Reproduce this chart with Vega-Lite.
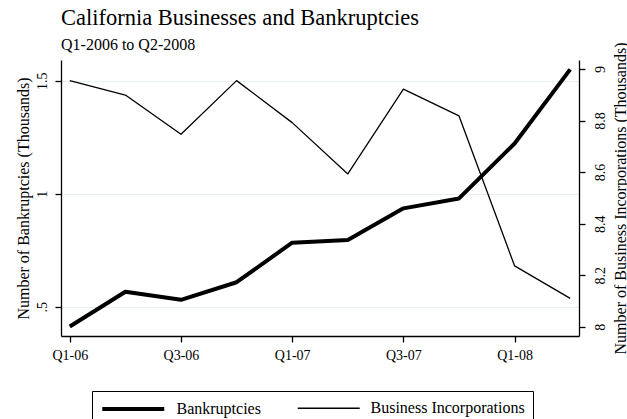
{
  "$schema": "https://vega.github.io/schema/vega-lite/v6.json",
  "width": 518,
  "height": 276,
  "autosize": "none",
  "padding": {"left": 61, "top": 60, "right": 48, "bottom": 83},
  "background": "white",
  "title": {
    "text": "California Businesses and Bankruptcies",
    "subtitle": "Q1-2006 to Q2-2008",
    "anchor": "start",
    "frame": "group",
    "font": "Liberation Serif",
    "fontSize": 22.5,
    "fontWeight": "normal",
    "color": "black",
    "subtitleFont": "Liberation Serif",
    "subtitleFontSize": 16,
    "subtitleColor": "black",
    "subtitlePadding": 8,
    "offset": -11
  },
  "data": {
    "values": [
      {"quarter": "Q1-06", "series": "Bankruptcies", "value": 0.412},
      {"quarter": "Q2-06", "series": "Bankruptcies", "value": 0.566},
      {"quarter": "Q3-06", "series": "Bankruptcies", "value": 0.530},
      {"quarter": "Q4-06", "series": "Bankruptcies", "value": 0.608},
      {"quarter": "Q1-07", "series": "Bankruptcies", "value": 0.783},
      {"quarter": "Q2-07", "series": "Bankruptcies", "value": 0.795},
      {"quarter": "Q3-07", "series": "Bankruptcies", "value": 0.935},
      {"quarter": "Q4-07", "series": "Bankruptcies", "value": 0.979},
      {"quarter": "Q1-08", "series": "Bankruptcies", "value": 1.222},
      {"quarter": "Q2-08", "series": "Bankruptcies", "value": 1.55},
      {"quarter": "Q1-06", "series": "Business Incorporations", "value": 8.955},
      {"quarter": "Q2-06", "series": "Business Incorporations", "value": 8.899},
      {"quarter": "Q3-06", "series": "Business Incorporations", "value": 8.747},
      {"quarter": "Q4-06", "series": "Business Incorporations", "value": 8.955},
      {"quarter": "Q1-07", "series": "Business Incorporations", "value": 8.792},
      {"quarter": "Q2-07", "series": "Business Incorporations", "value": 8.593},
      {"quarter": "Q3-07", "series": "Business Incorporations", "value": 8.922},
      {"quarter": "Q4-07", "series": "Business Incorporations", "value": 8.818},
      {"quarter": "Q1-08", "series": "Business Incorporations", "value": 8.236},
      {"quarter": "Q2-08", "series": "Business Incorporations", "value": 8.11}
    ]
  },
  "encoding": {
    "x": {
      "field": "quarter",
      "type": "ordinal",
      "sort": null,
      "scale": {"type": "point", "padding": 0.158},
      "axis": {
        "values": ["Q1-06", "Q3-06", "Q1-07", "Q3-07", "Q1-08"],
        "labelAngle": 0,
        "title": null,
        "grid": false,
        "labelFontSize": 14,
        "labelPadding": 6,
        "tickSize": 6
      }
    },
    "strokeWidth": {
      "field": "series",
      "type": "nominal",
      "scale": {"domain": ["Bankruptcies", "Business Incorporations"], "range": [4, 1.3]},
      "legend": {
        "title": null,
        "orient": "none",
        "legendX": 31,
        "legendY": 331,
        "direction": "horizontal",
        "symbolType": "M-1,0H7",
        "symbolSize": 240,
        "symbolStrokeColor": "black",
        "symbolFillColor": "transparent",
        "labelFontSize": 16,
        "labelFont": "Liberation Serif",
        "labelColor": "black",
        "labelOffset": 56.5,
        "columnPadding": 34,
        "padding": 8,
        "strokeColor": "black",
        "fillColor": "white"
      }
    }
  },
  "layer": [
    {
      "transform": [{"filter": "datum.series === 'Bankruptcies'"}],
      "mark": {"type": "line", "color": "black", "strokeJoin": "round"},
      "encoding": {
        "y": {
          "field": "value",
          "type": "quantitative",
          "scale": {"domain": [0.37, 1.5916], "nice": false, "zero": false},
          "axis": {
            "orient": "left",
            "values": [0.5, 1, 1.5],
            "format": "~g",
            "labelExpr": "replace(datum.label, '0.', '.')",
            "labelAngle": -90,
            "labelFontSize": 14,
            "labelPadding": 6,
            "tickSize": 6,
            "grid": true,
            "gridColor": "#e7eff1",
            "gridWidth": 1,
            "title": "Number of Bankruptcies (Thousands)",
            "titleFontSize": 16,
            "titlePadding": 4
          }
        }
      }
    },
    {
      "transform": [{"filter": "datum.series === 'Business Incorporations'"}],
      "mark": {"type": "line", "color": "black", "strokeJoin": "round"},
      "encoding": {
        "y": {
          "field": "value",
          "type": "quantitative",
          "scale": {"domain": [7.964, 9.035], "nice": false, "zero": false},
          "axis": {
            "orient": "right",
            "values": [8, 8.2, 8.4, 8.6, 8.8, 9],
            "format": "~g",
            "labelAngle": -90,
            "labelAlign": "center",
            "labelBaseline": "top",
            "labelFontSize": 14,
            "labelPadding": 8,
            "tickSize": 6,
            "grid": false,
            "title": "Number of Business Incorporations (Thousands)",
            "titleFontSize": 16,
            "titleAngle": -90,
            "titleBaseline": "top",
            "titlePadding": 5
          }
        }
      }
    }
  ],
  "resolve": {"scale": {"y": "independent"}},
  "config": {
    "view": {"stroke": null},
    "font": "Liberation Serif",
    "axis": {
      "domainColor": "black",
      "domainWidth": 1.3,
      "tickColor": "black",
      "tickWidth": 1.3,
      "labelColor": "black",
      "labelFont": "Liberation Serif",
      "titleFont": "Liberation Serif",
      "titleColor": "black",
      "titleFontWeight": "normal"
    }
  }
}
